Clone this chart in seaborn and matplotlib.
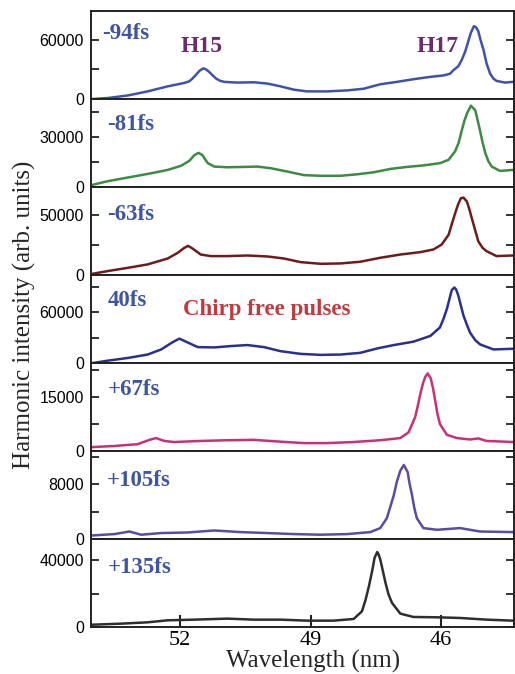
import numpy as np
import pandas as pd
import matplotlib
matplotlib.use("Agg")
import matplotlib.pyplot as plt
import seaborn as sns

sns.set_style("ticks")
plt.rcParams["font.family"] = ["Liberation Sans", "DejaVu Sans"]

# ---------------- data ----------------
delays = ["-94fs", "-81fs", "-63fs", "40fs", "+67fs", "+105fs", "+135fs"]

wl_m94 = [54.04, 53.99, 53.65, 53.19, 52.74, 52.28, 51.90, 51.78, 51.71, 51.62,
          51.55, 51.46, 51.40, 51.33, 51.25, 51.17, 51.08, 50.98, 50.68, 50.30,
          49.99, 49.69, 49.38, 49.08, 48.62, 48.16, 47.78, 47.40, 47.02, 46.64,
          46.25, 45.95, 45.80, 45.72, 45.61, 45.53, 45.45, 45.38, 45.32, 45.25,
          45.20, 45.15, 45.10, 45.03, 44.96, 44.88, 44.80, 44.73, 44.54, 44.36, 44.33]
int_m94 = [0, 0, 1000, 3600, 7700, 12800, 16200, 18000, 20700, 25000,
           28500, 31000, 30000, 27500, 24000, 20700, 18500, 17300, 16600, 16900,
           15600, 12800, 9400, 7700, 7700, 8700, 10400, 14900, 17300, 20000,
           22400, 23800, 25500, 29200, 33000, 39500, 48000, 58300, 67000, 73700,
           72500, 68600, 60000, 49700, 36000, 25800, 20500, 18300, 16600, 17300, 17300]

wl_m81 = [54.04, 53.99, 53.65, 53.19, 52.74, 52.28, 51.97, 51.78, 51.67, 51.57,
          51.48, 51.42, 51.36, 51.21, 50.91, 50.52, 50.22, 49.91, 49.53, 49.15,
          48.77, 48.31, 47.93, 47.55, 47.17, 46.79, 46.41, 46.02, 45.83, 45.68,
          45.60, 45.53, 45.47, 45.41, 45.32, 45.22, 45.17, 45.11, 45.05, 44.99,
          44.92, 44.84, 44.65, 44.36, 44.33]
int_m81 = [800, 1400, 3500, 5700, 7800, 10200, 12700, 15700, 19000, 20400,
           19000, 16500, 14300, 12200, 11800, 12000, 12200, 11200, 9200, 7100,
           6700, 6700, 7600, 8800, 10800, 12000, 12900, 14300, 16300, 21400,
           26500, 33700, 39500, 43900, 48600, 45900, 40500, 33700, 26500, 20400,
           15500, 12200, 9600, 10200, 10200]

wl_m63 = [54.04, 53.99, 53.65, 53.19, 52.74, 52.28, 52.05, 51.90, 51.81, 51.71, 51.52,
          51.29, 50.91, 50.45, 49.99, 49.61, 49.23, 48.77, 48.31, 47.86, 47.40,
          46.94, 46.48, 46.18, 45.99, 45.83, 45.76, 45.68, 45.61, 45.55, 45.49,
          45.41, 45.35, 45.30, 45.22, 45.15, 45.05, 44.96, 44.73, 44.36, 44.33]
int_m63 = [600, 1100, 3300, 6000, 8800, 13700, 18400, 22500, 24200, 22000, 17000,
           15700, 15700, 16200, 15400, 13700, 10700, 9300, 9600, 11000, 14300,
           17000, 19000, 21200, 25300, 33500, 42000, 51400, 59000, 63700, 64300,
           61000, 54000, 47300, 37000, 28000, 22500, 19800, 15700, 16200, 16200]

wl_p40 = [54.04, 53.99, 53.65, 53.19, 52.74, 52.43, 52.16, 52.01, 51.86, 51.59, 51.21,
          50.83, 50.45, 50.07, 49.69, 49.23, 48.77, 48.31, 47.86, 47.47, 47.09,
          46.64, 46.25, 46.03, 45.95, 45.87, 45.81, 45.76, 45.70, 45.66, 45.61,
          45.55, 45.49, 45.41, 45.34, 45.22, 45.11, 44.80, 44.36, 44.33]
int_p40 = [0, 0, 2800, 6000, 10000, 16000, 24800, 28800, 25200, 18800, 18400,
           20000, 21200, 18800, 14000, 10800, 9600, 10000, 12000, 17200, 21200,
           25200, 32000, 42000, 52000, 64000, 76000, 86000, 89200, 87000, 80000,
           68000, 56000, 45000, 36000, 27000, 22000, 16000, 16800, 16800]

wl_p67 = [54.04, 53.99, 53.50, 52.97, 52.70, 52.55, 52.36, 52.13, 51.52, 50.91, 50.30,
          49.69, 49.15, 48.62, 48.01, 47.40, 46.94, 46.75, 46.60, 46.54, 46.48,
          46.42, 46.37, 46.31, 46.24, 46.19, 46.14, 46.09, 46.03, 45.87, 45.64,
          45.34, 45.15, 44.96, 44.36, 44.33]
int_p67 = [1000, 1100, 1400, 1900, 3100, 3600, 2800, 2500, 2800, 3000, 3100,
           2600, 2200, 2200, 2500, 3000, 3600, 5200, 9400, 12500, 15900,
           18800, 20600, 21600, 20200, 17500, 14100, 10500, 7500, 4500, 3600,
           3200, 3500, 2800, 2500, 2500]

wl_p105 = [54.04, 53.99, 53.50, 53.16, 52.89, 52.43, 51.82, 51.21, 50.60, 49.99, 49.38,
           48.77, 48.16, 47.63, 47.40, 47.25, 47.17, 47.09, 47.02, 46.94, 46.86,
           46.77, 46.73, 46.67, 46.62, 46.56, 46.41, 46.10, 45.57, 45.11, 44.36, 44.33]
int_p105 = [500, 530, 720, 1100, 630, 870, 960, 1250, 1010, 870, 720,
            630, 720, 1010, 1600, 3040, 4700, 6400, 8400, 10000, 10850,
            9800, 8200, 6400, 4600, 3040, 1600, 1350, 1600, 1100, 1010, 1010]

wl_p135 = [54.04, 53.99, 53.35, 52.74, 52.28, 51.67, 50.91, 50.30, 49.69, 49.08, 48.47,
           48.01, 47.82, 47.74, 47.66, 47.59, 47.53, 47.47, 47.44, 47.40, 47.34,
           47.28, 47.21, 47.13, 46.94, 46.64, 46.10, 45.57, 44.96, 44.36, 44.33]
int_p135 = [1300, 1400, 2000, 2800, 4000, 4400, 5000, 4400, 4400, 3800, 3800,
            4800, 9400, 16000, 24400, 33000, 41400, 44800, 43500, 40400, 33500,
            26400, 19500, 14400, 8000, 6000, 5800, 5400, 4400, 3800, 3800]

wavelengths = [wl_m94, wl_m81, wl_m63, wl_p40, wl_p67, wl_p105, wl_p135]
intensities = [int_m94, int_m81, int_m63, int_p40, int_p67, int_p105, int_p135]

y_max = [89000, 52600, 73100, 104000, 24500, 12900, 52600]
y_major = [[0, 60000], [0, 30000], [0, 50000], [0, 60000], [0, 15000], [0, 8000], [0, 40000]]
y_minor = [[30000], [15000, 45000], [25000], [30000, 90000], [7500, 22500], [4000, 12000], [20000]]
x_ticks = [52, 49, 46]

line_colors = ["#3f52a8", "#3d8a42", "#6d1c1e", "#2b2f8e", "#c8317a", "#5a4ba3", "#2e2e2e"]
label_pos = [(0.026, 0.682), (0.038, 0.644), (0.038, 0.625), (0.040, 0.652),
             (0.040, 0.632), (0.038, 0.602), (0.040, 0.618)]

frames = []
for d, w, v in zip(delays, wavelengths, intensities):
    frames.append(pd.DataFrame({"delay": d, "wavelength": w, "intensity": v}))
df = pd.concat(frames, ignore_index=True)

# ---------------- figure ----------------
fig, axes = plt.subplots(7, 1, figsize=(5.15, 6.74), dpi=100, sharex=True)
fig.subplots_adjust(left=91 / 515, right=514 / 515, top=1 - 11 / 674,
                    bottom=1 - 627 / 674, hspace=0)

serif = ["Liberation Serif", "DejaVu Serif"]
label_blue = "#3e56a2"

for i, ax in enumerate(axes):
    sub = df[df["delay"] == delays[i]]
    sns.lineplot(data=sub, x="wavelength", y="intensity", ax=ax,
                 color=line_colors[i], linewidth=1.8, estimator=None, sort=False)
    ax.set_xlim(54.04, 44.33)
    ax.set_ylim(0, y_max[i])
    ax.set_yticks(y_major[i])
    ax.set_yticks(y_minor[i], minor=True)
    ax.set_yticklabels([str(t) for t in y_major[i]], fontsize=11.5)
    ax.tick_params(axis="y", which="both", direction="in", left=True, right=True,
                   length=6, width=1.3, pad=5, colors="#222222", labelcolor="black")
    ax.set_xlabel("")
    ax.set_ylabel("")
    for s in ax.spines.values():
        s.set_linewidth(1.4)
        s.set_color("#222222")
    ax.text(label_pos[i][0], label_pos[i][1], delays[i], transform=ax.transAxes,
            family=serif, fontweight="bold", fontsize=16.5, color=label_blue,
            ha="left", va="baseline")
    if i < 6:
        ax.tick_params(axis="x", which="both", bottom=False, labelbottom=False)

bottom = axes[-1]
bottom.set_xticks(x_ticks)
bottom.set_xticklabels([str(t) for t in x_ticks], family=serif, fontsize=16)
bottom.tick_params(axis="x", direction="in", length=9, width=1.5, pad=3, colors="#222222",
                   labelcolor="black")
bottom.minorticks_off()
bottom.set_yticks(y_minor[6], minor=True)

harm_color = "#6a2c6f"
axes[0].text(0.262, 0.534, "H15", transform=axes[0].transAxes, family=serif,
             fontweight="bold", fontsize=17, color=harm_color, ha="center", va="baseline")
axes[0].text(0.820, 0.534, "H17", transform=axes[0].transAxes, family=serif,
             fontweight="bold", fontsize=17, color=harm_color, ha="center", va="baseline")
axes[3].text(0.2175, 0.54, "Chirp free pulses", transform=axes[3].transAxes, family=serif,
             fontweight="bold", fontsize=16.5, color="#c13b3e", ha="left", va="baseline")

fig.text(24 / 515, 1 - 315 / 674, "Harmonic intensity (arb. units)", family=serif,
         fontsize=18, rotation=90, ha="center", va="center")
fig.text(313 / 515, 1 - 661 / 674, "Wavelength (nm)", family=serif,
         fontsize=18, ha="center", va="center")

fig.savefig("out.png", dpi=100)
